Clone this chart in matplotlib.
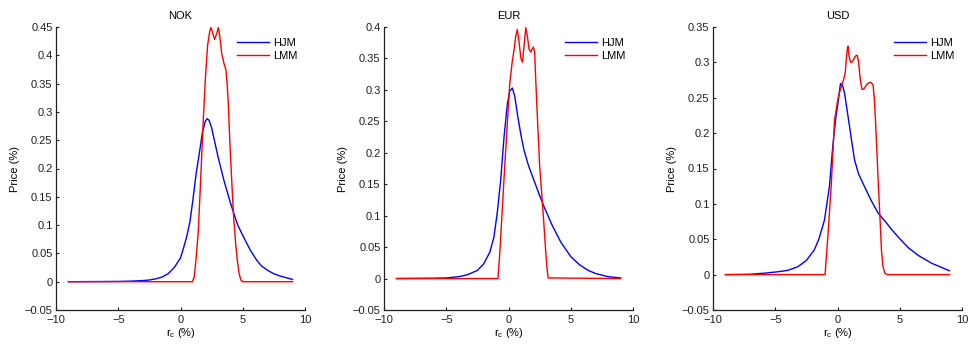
import matplotlib
matplotlib.use("Agg")
import matplotlib.pyplot as plt
from matplotlib.ticker import FuncFormatter, MultipleLocator

plt.rcParams['font.family'] = ['Liberation Sans', 'DejaVu Sans']
plt.rcParams['mathtext.fontset'] = 'custom'
plt.rcParams['mathtext.rm'] = 'Liberation Sans'
plt.rcParams['mathtext.it'] = 'Liberation Sans'

titles = ["NOK", "EUR", "USD"]
series_names = ["HJM", "LMM"]

# ---- NOK ----
nok_hjm_x = [-9, -7, -5, -4, -3, -2.5, -2, -1.5, -1, -0.5, 0, 0.25, 0.5, 0.75, 1.0, 1.25, 1.5, 1.75, 2.0, 2.15,
             2.3, 2.5, 2.7, 3.0, 3.5, 4.0, 4.28, 4.6, 5.04, 5.6, 6.12, 6.5, 7.0, 7.5, 8.0, 8.5, 9.0]
nok_hjm_y = [0, 0.0002, 0.0005, 0.001, 0.002, 0.003, 0.005, 0.008, 0.014, 0.025, 0.042, 0.06, 0.08, 0.105, 0.145,
             0.19, 0.225, 0.262, 0.284, 0.288, 0.285, 0.272, 0.252, 0.222, 0.178, 0.14, 0.121, 0.1, 0.08, 0.056,
             0.038, 0.028, 0.02, 0.014, 0.010, 0.007, 0.004]
nok_lmm_x = [-9, 0.95, 1.1, 1.25, 1.43, 1.62, 1.83, 2.0, 2.18, 2.35, 2.45, 2.6, 2.74, 2.9, 3.04, 3.15, 3.31, 3.5,
             3.65, 3.76, 3.85, 3.92, 4.0, 4.1, 4.25, 4.4, 4.55, 4.7, 4.85, 5.0, 9]
nok_lmm_y = [0, 0, 0.008, 0.04, 0.09, 0.18, 0.286, 0.36, 0.418, 0.443, 0.449, 0.438, 0.428, 0.438, 0.449, 0.435,
             0.403, 0.385, 0.374, 0.345, 0.31, 0.27, 0.23, 0.185, 0.12, 0.075, 0.04, 0.015, 0.003, 0, 0]

# ---- EUR ----
eur_hjm_x = [-9, -6, -5, -4, -3.3, -2.5, -2, -1.5, -1.17, -0.9, -0.63, -0.36, -0.09, 0.1, 0.31, 0.5, 0.71, 1.0,
             1.25, 1.6, 2.05, 2.5, 2.86, 3.5, 4.2, 5.0, 5.7, 6.4, 7.0, 8.0, 9.0]
eur_hjm_y = [0, 0.0005, 0.001, 0.003, 0.006, 0.013, 0.023, 0.042, 0.066, 0.105, 0.156, 0.225, 0.278, 0.298, 0.303,
             0.29, 0.262, 0.228, 0.204, 0.18, 0.156, 0.132, 0.114, 0.085, 0.058, 0.035, 0.022, 0.013, 0.008, 0.003,
             0.001]
eur_lmm_x = [-9, -0.85, -0.7, -0.5, -0.3, -0.1, 0.1, 0.3, 0.44, 0.58, 0.71, 0.85, 1.0, 1.12, 1.25, 1.39, 1.52,
             1.65, 1.79, 1.9, 2.0, 2.1, 2.2, 2.33, 2.5, 2.73, 2.9, 3.0, 3.1, 3.19, 9]
eur_lmm_y = [0, 0, 0.04, 0.11, 0.18, 0.245, 0.31, 0.345, 0.363, 0.385, 0.396, 0.375, 0.35, 0.344, 0.37, 0.399,
             0.385, 0.365, 0.360, 0.365, 0.368, 0.36, 0.31, 0.252, 0.18, 0.119, 0.07, 0.04, 0.015, 0.001, 0]

# ---- USD ----
usd_hjm_x = [-9, -7, -5.9, -4.8, -4, -3.2, -2.5, -1.86, -1.5, -1.05, -0.65, -0.38, -0.15, 0.03, 0.24, 0.4, 0.57,
             0.75, 0.97, 1.17, 1.37, 1.7, 2.18, 2.7, 3.26, 3.8, 4.34, 4.88, 5.69, 6.5, 7.57, 8.38, 8.98]
usd_hjm_y = [0, 0.0005, 0.002, 0.004, 0.006, 0.011, 0.02, 0.035, 0.05, 0.077, 0.124, 0.181, 0.22, 0.242, 0.270,
             0.268, 0.256, 0.235, 0.209, 0.185, 0.162, 0.142, 0.124, 0.105, 0.087, 0.076, 0.064, 0.053, 0.038,
             0.027, 0.016, 0.010, 0.0055]
usd_lmm_x = [-9, -1.0, -0.75, -0.51, -0.35, -0.24, 0.0, 0.16, 0.35, 0.51, 0.62, 0.7, 0.78, 0.84, 0.92, 1.05, 1.2,
             1.32, 1.45, 1.59, 1.7, 1.78, 1.88, 1.97, 2.1, 2.32, 2.5, 2.67, 2.86, 2.95, 3.05, 3.15, 3.26, 3.4, 3.53,
             3.65, 3.8, 4.0, 9]
usd_lmm_y = [0, 0, 0.06, 0.124, 0.18, 0.218, 0.245, 0.258, 0.268, 0.277, 0.285, 0.303, 0.318, 0.323, 0.31, 0.300,
             0.301, 0.305, 0.309, 0.310, 0.30, 0.284, 0.27, 0.262, 0.262, 0.268, 0.271, 0.272, 0.268, 0.25, 0.218,
             0.18, 0.135, 0.085, 0.035, 0.012, 0.002, 0, 0]

y_tops = [0.45, 0.4, 0.35]
x_ticks = [-10, -5, 0, 5, 10]

panels = [
    (nok_hjm_x, nok_hjm_y, nok_lmm_x, nok_lmm_y),
    (eur_hjm_x, eur_hjm_y, eur_lmm_x, eur_lmm_y),
    (usd_hjm_x, usd_hjm_y, usd_lmm_x, usd_lmm_y),
]

W, H = 968, 344
FS = 8
fig = plt.figure(figsize=(W / 100, H / 100), dpi=100)
lefts = [56, 384, 713]
ax_w = 249
ax_top, ax_bot = 27, 310


def fmt(v, pos):
    s = "%g" % round(v, 4)
    return s.replace("-", "\u2212")


for i, (hx, hy, lx, ly) in enumerate(panels):
    ax = fig.add_axes([lefts[i] / W, 1 - ax_bot / H, ax_w / W, (ax_bot - ax_top) / H])
    ax.plot(hx, hy, color=(0, 0, 1), lw=1.0, label=series_names[0])
    ax.plot(lx, ly, color=(1, 0, 0), lw=1.0, label=series_names[1])
    ax.set_xlim(-10, 10)
    ax.set_ylim(-0.05, y_tops[i])
    ax.set_xticks(x_ticks)
    ax.yaxis.set_major_locator(MultipleLocator(0.05))
    ax.xaxis.set_major_formatter(FuncFormatter(fmt))
    ax.yaxis.set_major_formatter(FuncFormatter(fmt))
    for s in ("top", "right"):
        ax.spines[s].set_visible(False)
    for s in ("left", "bottom"):
        ax.spines[s].set_linewidth(0.9)
        ax.spines[s].set_color("#202020")
    ax.tick_params(direction="in", length=2.5, width=0.8, labelsize=FS, colors="#202020")
    ax.tick_params(axis="x", pad=3.5)
    ax.tick_params(axis="y", pad=2.5)
    ax.set_title(titles[i], fontsize=FS, pad=6)
    ax.set_ylabel("Price (%)", fontsize=FS, labelpad=3)
    ax.set_xlabel(r"r$_{\rm c}$ (%)", fontsize=FS, labelpad=1)
    leg = ax.legend(loc="upper right", frameon=False, fontsize=FS, handlelength=2.9,
                    handletextpad=0.3, labelspacing=0.3, borderaxespad=0.2,
                    bbox_to_anchor=(0.995, 0.985))

fig.savefig("out.png", dpi=100)
